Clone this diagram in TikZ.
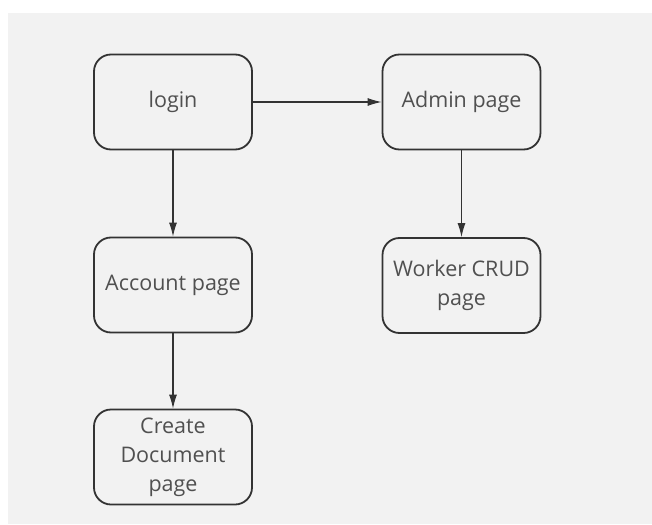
\documentclass[tikz,border=0pt]{standalone}
\usepackage{fontspec}
\setmainfont{Open Sans}
\usetikzlibrary{arrows.meta}
\definecolor{bgGray}{HTML}{F2F2F2}
\definecolor{boxLine}{HTML}{333333}
\definecolor{txtGray}{HTML}{505050}

\begin{document}
\begin{tikzpicture}
		[x=1pt,y=-1pt,every node/.style={draw=boxLine,line width=1.8pt,rounded corners=17pt,minimum width=158pt,minimum height=95pt,inner sep=0pt,align=center,text=txtGray,font=\fontsize{21.5}{29}\selectfont},edge/.style={-{Latex[length=14pt,width=8pt]},line width=1.1pt,draw=boxLine}]
		\useasboundingbox (0,0) rectangle (652,524);
		\fill[white] (0,0) rectangle (652,524);
		\fill[bgGray] (8,13) rectangle (652,524);
		\node (login) at (173,102)  {login};
		\node (admin) at (461.5,102)  {Admin page};
		\node (account) at (173,285) {Account page};
		\node (worker) at (461.5,285.5)  {Worker CRUD\\page};
		\node (create) at (173,457)  {Create\\Document\\page};
		
		\foreach \from/\to in {login/admin,login/account,account/create,admin/worker}
		\draw[edge] (\from) -- (\to);
		\end{tikzpicture}
\end{document}
